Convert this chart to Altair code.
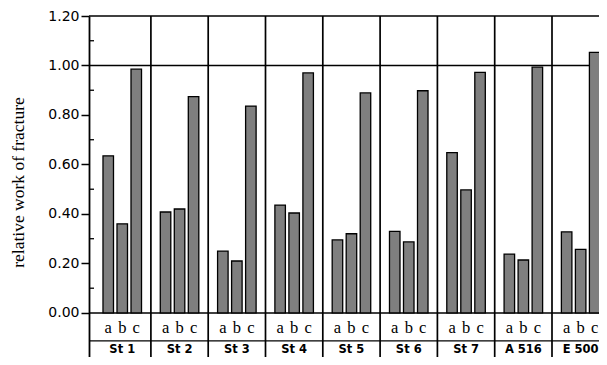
import altair as alt
import pandas as pd

# ---- data ----
groups = ["St 1", "St 2", "St 3", "St 4", "St 5", "St 6", "St 7", "A 516", "E 500"]
subs = ["a", "b", "c"]
val_a = [0.635, 0.408, 0.250, 0.436, 0.295, 0.330, 0.648, 0.238, 0.328]
val_b = [0.360, 0.420, 0.210, 0.404, 0.320, 0.287, 0.497, 0.214, 0.257]
val_c = [0.985, 0.874, 0.836, 0.970, 0.889, 0.898, 0.972, 0.993, 1.053]
y_ticks = [0.0, 0.2, 0.4, 0.6, 0.8, 1.0, 1.2]
y_minor = [0.1, 0.3, 0.5, 0.7, 0.9, 1.1]
h_lines = [1.2, 1.0, 0.0, -0.113]

df = pd.DataFrame({
    "group": [g for g in groups for _ in subs],
    "sub": subs * len(groups),
    "value": [v for trip in zip(val_a, val_b, val_c) for v in trip],
})
gdf = pd.DataFrame({"group": groups})
minor_df = pd.DataFrame({"v": y_minor})
hl_df = pd.DataFrame({"v": h_lines})

Y_MIN, Y_MAX = -0.178, 1.2
ROW_ABC = -0.062
ROW_GRP = -0.148

def xenc():
    return alt.X("group:N", sort=groups, axis=None,
                 scale=alt.Scale(domain=groups, range=[4.6, 520.3],
                                 paddingInner=0, paddingOuter=0))

xoff = alt.XOffset("sub:N", sort=subs,
                   scale=alt.Scale(domain=subs, paddingInner=0.25, paddingOuter=0.67))

yscale = alt.Scale(domain=[Y_MIN, Y_MAX], nice=False, zero=False)

def yaxis():
    return alt.Axis(values=y_ticks, format=".2f", grid=False,
                    title="relative work of fracture",
                    titleFont="Liberation Serif", titleFontSize=17.5,
                    titleFontWeight="normal", titleColor="black",
                    titleAngle=-90, titleX=-71, titleY=166,
                    titleAlign="center", titleBaseline="middle",
                    labelFont="DejaVu Sans", labelFontSize=14,
                    labelColor="black", labelPadding=2,
                    tickSize=8, tickColor="black", tickWidth=1.5,
                    domainColor="black", domainWidth=1.8)

hlines = alt.Chart(hl_df).mark_rule(color="black", strokeWidth=1.4).encode(
    y=alt.Y("v:Q", scale=yscale, axis=yaxis())
)

bars = alt.Chart(df).mark_bar(fill="#7f7f7f", stroke="black", strokeWidth=1.3, clip=True).encode(
    x=xenc(),
    xOffset=xoff,
    y=alt.Y("value:Q", scale=yscale, axis=yaxis()),
    y2=alt.datum(0),
)

minor = alt.Chart(minor_df).mark_rule(color="black", strokeWidth=1.3).encode(
    y=alt.Y("v:Q", scale=yscale, axis=yaxis()),
    x=alt.value(0),
    x2=alt.value(5),
)

seps = alt.Chart(gdf).mark_rule(color="black", strokeWidth=1.7).encode(
    x=alt.X("group:N", sort=groups, axis=None, bandPosition=1,
            scale=alt.Scale(domain=groups, range=[4.6, 520.3],
                            paddingInner=0, paddingOuter=0)),
)

abc = alt.Chart(df).mark_text(font="Liberation Serif", fontSize=16.5, color="black",
                              baseline="middle", clip=True).encode(
    x=xenc(),
    xOffset=xoff,
    y=alt.datum(ROW_ABC),
    text="sub:N",
)

glab = alt.Chart(gdf).mark_text(font="DejaVu Sans", fontWeight="bold", fontSize=11.5,
                                color="black", baseline="middle", clip=True).encode(
    x=xenc(),
    y=alt.datum(ROW_GRP),
    text="group:N",
)

chart = alt.layer(hlines, bars, minor, seps, abc, glab).properties(
    width=510,
    height=341,
    padding={"left": 81, "top": 8, "right": 0, "bottom": 0},
    autosize=alt.AutoSizeParams(type="none"),
    background="white",
).configure_view(strokeWidth=0)

chart.save("out.html", embed_options={"renderer": "svg", "actions": False})
